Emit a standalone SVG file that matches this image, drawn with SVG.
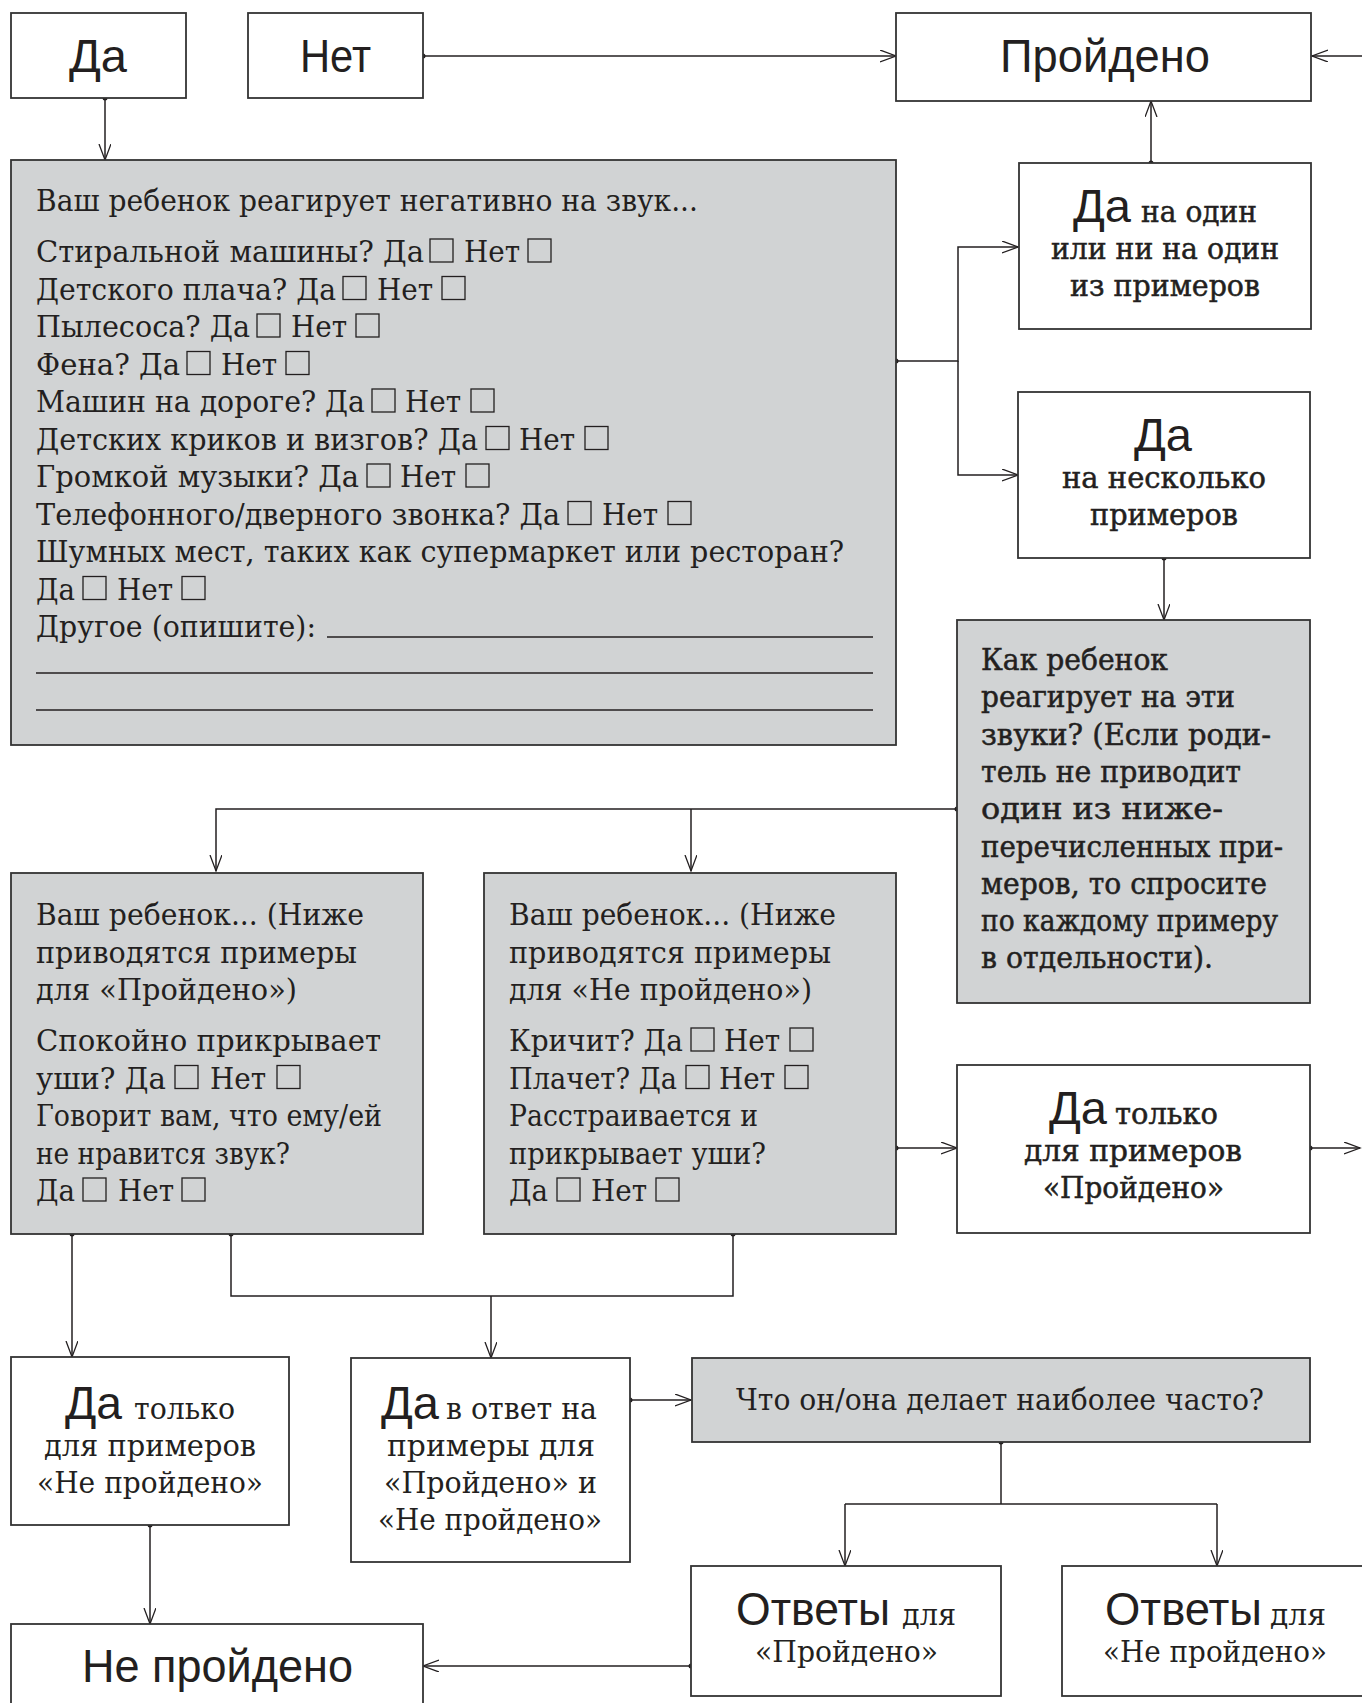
<svg xmlns="http://www.w3.org/2000/svg" width="1362" height="1703" viewBox="0 0 1362 1703">
  <style>
    .box { fill: #ffffff; stroke: #333333; stroke-width: 1.8; }
    .gbox { fill: #d1d3d4; stroke: #333333; stroke-width: 1.8; }
    .ln { fill: none; stroke: #231f20; stroke-width: 1.5; }
    .dot { fill: #231f20; }
    .big { font-family: "Liberation Sans", "Open Sans", sans-serif; font-size: 46px; fill: #231f20; }
    .sr { font-family: "DejaVu Serif", "Liberation Serif", serif; font-size: 30px; fill: #231f20; }
    .sb { font-family: "DejaVu Serif", "Liberation Serif", serif; font-size: 29px; fill: #231f20; stroke: #231f20; stroke-width: 0.5; }
    .cb { fill: none; stroke: #231f20; stroke-width: 1.3; }
    .ul { stroke: #231f20; stroke-width: 1.5; }
  </style>
  <defs>
    <marker id="arr" markerUnits="userSpaceOnUse" markerWidth="18" markerHeight="14" refX="16" refY="6" orient="auto">
      <path d="M0,0 L16,6 L0,12" fill="none" stroke="#231f20" stroke-width="1.3"/>
    </marker>
  </defs>

  <rect width="1362" height="1703" fill="#ffffff"/>

  <!-- connectors -->
  <g id="connectors">
    <path class="ln" d="M105,98 V160" marker-end="url(#arr)"/>
    <path class="ln" d="M423,56 H896" marker-end="url(#arr)"/>
    <path class="ln" d="M1362,56 H1312" marker-end="url(#arr)"/>
    <path class="ln" d="M1151,163 V101" marker-end="url(#arr)"/>
    <path class="ln" d="M896,361 H958 V247 H1018" marker-end="url(#arr)"/>
    <path class="ln" d="M958,361 V475 H1018" marker-end="url(#arr)"/>
    <path class="ln" d="M1164,558 V620" marker-end="url(#arr)"/>
    <path class="ln" d="M957,809 H216 V871" marker-end="url(#arr)"/>
    <path class="ln" d="M691,809 V871" marker-end="url(#arr)"/>
    <path class="ln" d="M896,1148 H957" marker-end="url(#arr)"/>
    <path class="ln" d="M1310,1148 H1360" marker-end="url(#arr)"/>
    <path class="ln" d="M72,1234 V1357" marker-end="url(#arr)"/>
    <path class="ln" d="M231,1234 V1296 H733 V1234"/>
    <path class="ln" d="M491,1296 V1358" marker-end="url(#arr)"/>
    <path class="ln" d="M630,1400 H691" marker-end="url(#arr)"/>
    <path class="ln" d="M1001,1442 V1504"/>
    <path class="ln" d="M845,1504 H1217"/>
    <path class="ln" d="M845,1504 V1566" marker-end="url(#arr)"/>
    <path class="ln" d="M1217,1504 V1566" marker-end="url(#arr)"/>
    <path class="ln" d="M150,1525 V1624" marker-end="url(#arr)"/>
    <path class="ln" d="M691,1666 H423" marker-end="url(#arr)"/>
    <g class="dot">
      <circle cx="105" cy="98" r="2.5"/>
      <circle cx="423" cy="56" r="2.5"/>
      <circle cx="1151" cy="163" r="2.5"/>
      <circle cx="896" cy="361" r="2.5"/>
      <circle cx="1164" cy="558" r="2.5"/>
      <circle cx="957" cy="809" r="2.5"/>
      <circle cx="896" cy="1148" r="2.5"/>
      <circle cx="1310" cy="1148" r="2.5"/>
      <circle cx="72" cy="1234" r="2.5"/>
      <circle cx="231" cy="1234" r="2.5"/>
      <circle cx="733" cy="1234" r="2.5"/>
      <circle cx="630" cy="1400" r="2.5"/>
      <circle cx="1001" cy="1442" r="2.5"/>
      <circle cx="150" cy="1525" r="2.5"/>
      <circle cx="691" cy="1666" r="2.5"/>
    </g>
  </g>

  <!-- top row -->
  <g id="yes-top">
    <rect class="box" x="11" y="13" width="175" height="85"/>
    <text class="big" x="69" y="72" textLength="58" lengthAdjust="spacingAndGlyphs">Да</text>
  </g>
  <g id="no-top">
    <rect class="box" x="248" y="13" width="175" height="85"/>
    <text class="big" x="300" y="72" textLength="71" lengthAdjust="spacingAndGlyphs">Нет</text>
  </g>
  <g id="passed">
    <rect class="box" x="896" y="13" width="415" height="88"/>
    <text class="big" x="1000" y="72" textLength="210" lengthAdjust="spacingAndGlyphs">Пройдено</text>
  </g>

  <!-- questionnaire of sounds -->
  <g id="sounds">
    <rect class="gbox" x="11" y="160" width="885" height="585"/>
    <text class="sr" x="36" y="211" textLength="662" lengthAdjust="spacingAndGlyphs">Ваш ребенок реагирует негативно на звук...</text>

    <text class="sr" x="36" y="262" textLength="388" lengthAdjust="spacingAndGlyphs">Стиральной машины? Да</text>
    <rect class="cb" x="430" y="239" width="23" height="23"/>
    <text class="sr" x="464" y="262" textLength="56" lengthAdjust="spacingAndGlyphs">Нет</text>
    <rect class="cb" x="528" y="239" width="23" height="23"/>

    <text class="sr" x="36" y="299.5" textLength="300" lengthAdjust="spacingAndGlyphs">Детского плача? Да</text>
    <rect class="cb" x="343" y="276.5" width="23" height="23"/>
    <text class="sr" x="377" y="299.5" textLength="56" lengthAdjust="spacingAndGlyphs">Нет</text>
    <rect class="cb" x="442" y="276.5" width="23" height="23"/>

    <text class="sr" x="36" y="337" textLength="214" lengthAdjust="spacingAndGlyphs">Пылесоса? Да</text>
    <rect class="cb" x="257" y="314" width="23" height="23"/>
    <text class="sr" x="291" y="337" textLength="56" lengthAdjust="spacingAndGlyphs">Нет</text>
    <rect class="cb" x="356" y="314" width="23" height="23"/>

    <text class="sr" x="36" y="374.5" textLength="144" lengthAdjust="spacingAndGlyphs">Фена? Да</text>
    <rect class="cb" x="187" y="351.5" width="23" height="23"/>
    <text class="sr" x="221" y="374.5" textLength="56" lengthAdjust="spacingAndGlyphs">Нет</text>
    <rect class="cb" x="286" y="351.5" width="23" height="23"/>

    <text class="sr" x="36" y="412" textLength="329" lengthAdjust="spacingAndGlyphs">Машин на дороге? Да</text>
    <rect class="cb" x="372" y="389" width="23" height="23"/>
    <text class="sr" x="405" y="412" textLength="56" lengthAdjust="spacingAndGlyphs">Нет</text>
    <rect class="cb" x="471" y="389" width="23" height="23"/>

    <text class="sr" x="36" y="449.5" textLength="442" lengthAdjust="spacingAndGlyphs">Детских криков и визгов? Да</text>
    <rect class="cb" x="486" y="426.5" width="23" height="23"/>
    <text class="sr" x="519" y="449.5" textLength="56" lengthAdjust="spacingAndGlyphs">Нет</text>
    <rect class="cb" x="585" y="426.5" width="23" height="23"/>

    <text class="sr" x="36" y="487" textLength="323" lengthAdjust="spacingAndGlyphs">Громкой музыки? Да</text>
    <rect class="cb" x="367" y="464" width="23" height="23"/>
    <text class="sr" x="400" y="487" textLength="56" lengthAdjust="spacingAndGlyphs">Нет</text>
    <rect class="cb" x="466" y="464" width="23" height="23"/>

    <text class="sr" x="36" y="524.5" textLength="524" lengthAdjust="spacingAndGlyphs">Телефонного/дверного звонка? Да</text>
    <rect class="cb" x="568" y="501.5" width="23" height="23"/>
    <text class="sr" x="602" y="524.5" textLength="56" lengthAdjust="spacingAndGlyphs">Нет</text>
    <rect class="cb" x="668" y="501.5" width="23" height="23"/>

    <text class="sr" x="36" y="562" textLength="808" lengthAdjust="spacingAndGlyphs">Шумных мест, таких как супермаркет или ресторан?</text>

    <text class="sr" x="36" y="599.5" textLength="39" lengthAdjust="spacingAndGlyphs">Да</text>
    <rect class="cb" x="83" y="576.5" width="23" height="23"/>
    <text class="sr" x="117" y="599.5" textLength="56" lengthAdjust="spacingAndGlyphs">Нет</text>
    <rect class="cb" x="182" y="576.5" width="23" height="23"/>

    <text class="sr" x="36" y="637" textLength="280" lengthAdjust="spacingAndGlyphs">Другое (опишите):</text>
    <line class="ul" x1="327" y1="637" x2="873" y2="637"/>
    <line class="ul" x1="36" y1="673" x2="873" y2="673"/>
    <line class="ul" x1="36" y1="710" x2="873" y2="710"/>
  </g>

  <!-- right column -->
  <g id="yes-one-or-none">
    <rect class="box" x="1019" y="163" width="292" height="166"/>
    <text class="big" x="1073" y="222" textLength="58" lengthAdjust="spacingAndGlyphs">Да</text>
    <text class="sb" x="1141" y="222" textLength="116" lengthAdjust="spacingAndGlyphs">на один</text>
    <text class="sb" x="1051" y="259" textLength="228" lengthAdjust="spacingAndGlyphs">или ни на один</text>
    <text class="sb" x="1070" y="296" textLength="190" lengthAdjust="spacingAndGlyphs">из примеров</text>
  </g>
  <g id="yes-several">
    <rect class="box" x="1018" y="392" width="292" height="166"/>
    <text class="big" x="1134" y="451" textLength="58" lengthAdjust="spacingAndGlyphs">Да</text>
    <text class="sb" x="1062" y="488" textLength="204" lengthAdjust="spacingAndGlyphs">на  несколько</text>
    <text class="sb" x="1090" y="525" textLength="148" lengthAdjust="spacingAndGlyphs">примеров</text>
  </g>
  <g id="how-reacts">
    <rect class="gbox" x="957" y="620" width="353" height="383"/>
    <text class="sb" x="981" y="670" textLength="187" lengthAdjust="spacingAndGlyphs">Как ребенок</text>
    <text class="sb" x="981" y="707.3" textLength="254" lengthAdjust="spacingAndGlyphs">реагирует на эти</text>
    <text class="sb" x="981" y="744.6" textLength="290" lengthAdjust="spacingAndGlyphs">звуки? (Если роди-</text>
    <text class="sb" x="981" y="781.9" textLength="260" lengthAdjust="spacingAndGlyphs">тель не приводит</text>
    <text class="sb" x="981" y="819.2" textLength="242" lengthAdjust="spacingAndGlyphs">один из ниже-</text>
    <text class="sb" x="981" y="856.5" textLength="302" lengthAdjust="spacingAndGlyphs">перечисленных при-</text>
    <text class="sb" x="981" y="893.8" textLength="286" lengthAdjust="spacingAndGlyphs">меров, то спросите</text>
    <text class="sb" x="981" y="931.1" textLength="297" lengthAdjust="spacingAndGlyphs">по каждому примеру</text>
    <text class="sb" x="981" y="968.4" textLength="232" lengthAdjust="spacingAndGlyphs">в отдельности).</text>
  </g>

  <!-- example boxes -->
  <g id="pass-examples">
    <rect class="gbox" x="11" y="873" width="412" height="361"/>
    <text class="sr" x="36" y="925" textLength="328" lengthAdjust="spacingAndGlyphs">Ваш ребенок... (Ниже</text>
    <text class="sr" x="36" y="962.5" textLength="321" lengthAdjust="spacingAndGlyphs">приводятся примеры</text>
    <text class="sr" x="36" y="1000" textLength="261" lengthAdjust="spacingAndGlyphs">для «Пройдено»)</text>
    <text class="sr" x="36" y="1051" textLength="345" lengthAdjust="spacingAndGlyphs">Спокойно прикрывает</text>
    <text class="sr" x="36" y="1088.5" textLength="130" lengthAdjust="spacingAndGlyphs">уши? Да</text>
    <rect class="cb" x="175" y="1065.5" width="23" height="23"/>
    <text class="sr" x="210" y="1088.5" textLength="56" lengthAdjust="spacingAndGlyphs">Нет</text>
    <rect class="cb" x="277" y="1065.5" width="23" height="23"/>
    <text class="sr" x="36" y="1126" textLength="346" lengthAdjust="spacingAndGlyphs">Говорит вам, что ему/ей</text>
    <text class="sr" x="36" y="1163.5" textLength="254" lengthAdjust="spacingAndGlyphs">не нравится звук?</text>
    <text class="sr" x="36" y="1201" textLength="39" lengthAdjust="spacingAndGlyphs">Да</text>
    <rect class="cb" x="83" y="1178" width="23" height="23"/>
    <text class="sr" x="118" y="1201" textLength="56" lengthAdjust="spacingAndGlyphs">Нет</text>
    <rect class="cb" x="182" y="1178" width="23" height="23"/>
  </g>
  <g id="fail-examples">
    <rect class="gbox" x="484" y="873" width="412" height="361"/>
    <text class="sr" x="509" y="925" textLength="327" lengthAdjust="spacingAndGlyphs">Ваш ребенок... (Ниже</text>
    <text class="sr" x="509" y="962.5" textLength="322" lengthAdjust="spacingAndGlyphs">приводятся примеры</text>
    <text class="sr" x="509" y="1000" textLength="303" lengthAdjust="spacingAndGlyphs">для «Не пройдено»)</text>
    <text class="sr" x="509" y="1051" textLength="174" lengthAdjust="spacingAndGlyphs">Кричит? Да</text>
    <rect class="cb" x="691" y="1028" width="23" height="23"/>
    <text class="sr" x="724" y="1051" textLength="56" lengthAdjust="spacingAndGlyphs">Нет</text>
    <rect class="cb" x="790" y="1028" width="23" height="23"/>
    <text class="sr" x="509" y="1088.5" textLength="168" lengthAdjust="spacingAndGlyphs">Плачет? Да</text>
    <rect class="cb" x="686" y="1065.5" width="23" height="23"/>
    <text class="sr" x="719" y="1088.5" textLength="56" lengthAdjust="spacingAndGlyphs">Нет</text>
    <rect class="cb" x="785" y="1065.5" width="23" height="23"/>
    <text class="sr" x="509" y="1126" textLength="249" lengthAdjust="spacingAndGlyphs">Расстраивается и</text>
    <text class="sr" x="509" y="1163.5" textLength="257" lengthAdjust="spacingAndGlyphs">прикрывает уши?</text>
    <text class="sr" x="509" y="1201" textLength="39" lengthAdjust="spacingAndGlyphs">Да</text>
    <rect class="cb" x="557" y="1178" width="23" height="23"/>
    <text class="sr" x="591" y="1201" textLength="56" lengthAdjust="spacingAndGlyphs">Нет</text>
    <rect class="cb" x="656" y="1178" width="23" height="23"/>
  </g>
  <g id="yes-only-pass">
    <rect class="box" x="957" y="1065" width="353" height="168"/>
    <text class="big" x="1049" y="1124" textLength="58" lengthAdjust="spacingAndGlyphs">Да</text>
    <text class="sb" x="1115" y="1124" textLength="103" lengthAdjust="spacingAndGlyphs">только</text>
    <text class="sb" x="1024" y="1161" textLength="218" lengthAdjust="spacingAndGlyphs">для  примеров</text>
    <text class="sb" x="1043" y="1198" textLength="181" lengthAdjust="spacingAndGlyphs">«Пройдено»</text>
  </g>

  <!-- lower part -->
  <g id="yes-only-fail">
    <rect class="box" x="11" y="1357" width="278" height="168"/>
    <text class="big" x="65" y="1419" textLength="57" lengthAdjust="spacingAndGlyphs">Да</text>
    <text class="sr" x="134" y="1419" textLength="101" lengthAdjust="spacingAndGlyphs">только</text>
    <text class="sr" x="44" y="1456" textLength="212" lengthAdjust="spacingAndGlyphs">для примеров</text>
    <text class="sr" x="37" y="1493" textLength="226" lengthAdjust="spacingAndGlyphs">«Не пройдено»</text>
  </g>
  <g id="yes-both">
    <rect class="box" x="351" y="1358" width="279" height="204"/>
    <text class="big" x="381" y="1419" textLength="58" lengthAdjust="spacingAndGlyphs">Да</text>
    <text class="sr" x="446" y="1419" textLength="151" lengthAdjust="spacingAndGlyphs">в ответ на</text>
    <text class="sr" x="387" y="1456" textLength="208" lengthAdjust="spacingAndGlyphs">примеры  для</text>
    <text class="sr" x="384" y="1493" textLength="213" lengthAdjust="spacingAndGlyphs">«Пройдено» и</text>
    <text class="sr" x="378" y="1530" textLength="224" lengthAdjust="spacingAndGlyphs">«Не пройдено»</text>
  </g>
  <g id="most-often">
    <rect class="gbox" x="692" y="1358" width="618" height="84"/>
    <text class="sr" x="736" y="1410" textLength="528" lengthAdjust="spacingAndGlyphs">Что он/она делает наиболее часто?</text>
  </g>
  <g id="answers-pass">
    <rect class="box" x="691" y="1566" width="310" height="130"/>
    <text class="big" x="736" y="1625" textLength="154" lengthAdjust="spacingAndGlyphs">Ответы</text>
    <text class="sr" x="902" y="1625" textLength="54" lengthAdjust="spacingAndGlyphs">для</text>
    <text class="sr" x="755" y="1662" textLength="183" lengthAdjust="spacingAndGlyphs">«Пройдено»</text>
  </g>
  <g id="answers-fail">
    <rect class="box" x="1062" y="1566" width="320" height="130"/>
    <text class="big" x="1105" y="1625" textLength="157" lengthAdjust="spacingAndGlyphs">Ответы</text>
    <text class="sr" x="1270" y="1625" textLength="56" lengthAdjust="spacingAndGlyphs">для</text>
    <text class="sr" x="1103" y="1662" textLength="224" lengthAdjust="spacingAndGlyphs">«Не пройдено»</text>
  </g>
  <g id="failed">
    <rect class="box" x="11" y="1624" width="412" height="100"/>
    <text class="big" x="82" y="1682" textLength="271" lengthAdjust="spacingAndGlyphs">Не пройдено</text>
  </g>
</svg>
